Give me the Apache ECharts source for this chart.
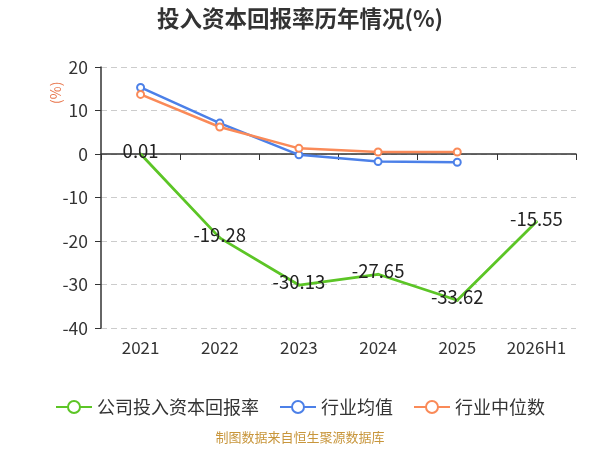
<!DOCTYPE html>
<html>
<head>
<meta charset="utf-8">
<script src="https://cdn.jsdelivr.net/npm/echarts@6/dist/echarts.min.js"></script>
<style>html,body{margin:0;padding:0;background:#fff}#c{width:600px;height:450px}</style>
</head>
<body>
<div id="c"></div>
<script>
var categories = ['2021', '2022', '2023', '2024', '2025', '2026H1'];
var companyROIC = [0.01, -19.28, -30.13, -27.65, -33.62, -15.55];
var industryMean = [15.3, 7.1, -0.2, -1.75, -1.9, null];
var industryMedian = [13.7, 6.2, 1.3, 0.45, 0.45, null];
var seriesNames = ['公司投入资本回报率', '行业均值', '行业中位数'];

var chart = echarts.init(document.getElementById('c'));
var font = '"Noto Sans CJK SC", "Noto Sans", sans-serif';
chart.setOption({
  animation: false,
  textStyle: {fontFamily: font},
  title: {
    text: '投入资本回报率历年情况(%)',
    left: 'center', top: 2,
    textStyle: {fontSize: 22.5, fontWeight: 'bold', color: '#333', fontFamily: font}
  },
  legend: {
    bottom: 29,
    left: 'center',
    itemWidth: 36, itemHeight: 15, itemGap: 20,
    textStyle: {fontSize: 18, color: '#333', fontFamily: font},
    data: seriesNames
  },
  graphic: [
    {type: 'text', left: 'center', top: 431, style: {text: '制图数据来自恒生聚源数据库', fill: '#c8963c', fontSize: 13, fontFamily: font}},
    {type: 'text', x: 49, y: 104, rotation: Math.PI / 2, style: {text: '(%)', fill: '#e8744a', fontSize: 14, fontFamily: font}}
  ],
  grid: {left: 101, right: 24, top: 67, bottom: 122},
  xAxis: [
    {
      type: 'category', data: categories, position: 'bottom',
      axisLine: {show: true, onZero: true, lineStyle: {color: '#333', width: 1.5}},
      axisTick: {show: true, length: 6, lineStyle: {color: '#333'}},
      axisLabel: {show: false}
    },
    {
      type: 'category', data: categories, position: 'bottom',
      axisLine: {show: false, onZero: false},
      axisTick: {show: false},
      axisLabel: {show: true, fontSize: 17, color: '#333', margin: 11, fontFamily: font}
    }
  ],
  yAxis: {
    type: 'value', min: -40, max: 20, interval: 10,
    axisLine: {show: true, lineStyle: {color: '#333', width: 1.5}},
    axisTick: {show: true, length: 6, lineStyle: {color: '#333'}},
    axisLabel: {fontSize: 17.5, color: '#333', margin: 13, fontFamily: font},
    splitLine: {show: true, lineStyle: {type: [6, 4], color: '#ccc'}}
  },
  series: [
    {
      name: seriesNames[0], type: 'line', data: companyROIC,
      symbol: 'emptyCircle', symbolSize: 1, showSymbol: true,
      lineStyle: {color: '#5cc526', width: 2.8},
      itemStyle: {color: '#5cc526'},
      label: {show: true, position: 'inside', offset: [0, -3], fontSize: 18.5, color: '#222', fontFamily: font},
      z: 3
    },
    {
      name: seriesNames[1], type: 'line', data: industryMean,
      symbol: 'emptyCircle', symbolSize: 7,
      lineStyle: {color: '#4c80e8', width: 2.5},
      itemStyle: {color: '#4c80e8', borderWidth: 1.5}
    },
    {
      name: seriesNames[2], type: 'line', data: industryMedian,
      symbol: 'emptyCircle', symbolSize: 7,
      lineStyle: {color: '#fa8a58', width: 2.5},
      itemStyle: {color: '#fa8a58', borderWidth: 1.5}
    }
  ]
});
</script>
</body>
</html>
